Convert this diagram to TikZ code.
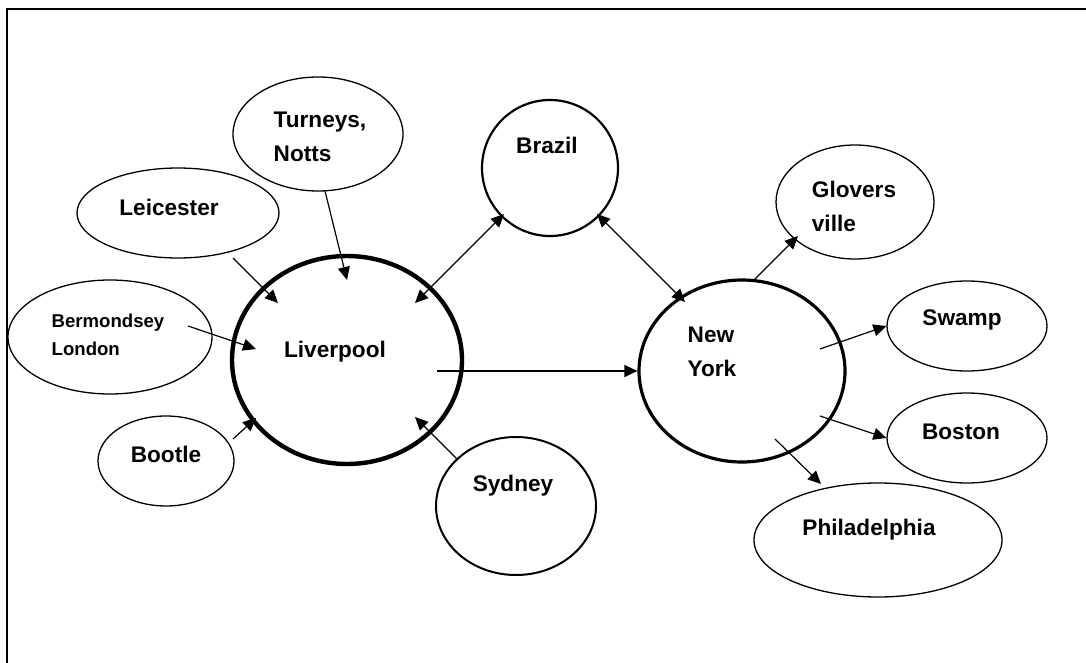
\documentclass[tikz,border=0pt]{standalone}
\usepackage{fontspec}
\setmainfont{Liberation Sans}
\usetikzlibrary{positioning, calc, shapes.geometric, arrows.meta}
\tikzset{
  %% town ellipse
  town/.style={
    ellipse, draw, line width=0.65pt, inner sep=0pt
  },
  %% heavier outline for the ports
  port/.style={town, line width=1.1pt},
  %% text inside the shapes
  lbl/.style={
    font=\fontsize{11.3}{17}\selectfont\bfseries,
    align=left, inner sep=0pt
  },
  lblSmall/.style={lbl, font=\fontsize{9.3}{14}\selectfont\bfseries},
  %% arrows
  arr/.style={
    -{Triangle[length=6.5pt, width=6pt]},
    line width=0.6pt
  },
  arrBoth/.style={arr, {Triangle[length=6.5pt, width=6pt]}-{Triangle[length=6.5pt, width=6pt]}}
}

\begin{document}
\begin{tikzpicture}[x=0.5pt, y=-0.5pt]
\useasboundingbox (0,0) rectangle (1086,663);

%% frame, top and left edge
\coordinate (frameBL) at (7,663);
\coordinate (frameTR) at (1086,9);
\draw[line width=0.8pt] (frameBL) |- (frameTR);

%% ═══════════════════════════════════════════════════════════════
%%  LIVERPOOL and the places feeding it
%% ═══════════════════════════════════════════════════════════════

\node[port, line width=2.2pt, minimum width=115pt, minimum height=104pt,
  label={[lbl, xshift=-6pt, yshift=4pt]center:Liverpool}
] (lpool) at (347,360) {};

\node[town, minimum width=85pt, minimum height=57pt,
  label={[lbl, xshift=1pt, yshift=-1.5pt]center:{Turneys,\\Notts}}
] (turn) at (318,134) {};

\node[town, minimum width=101pt, minimum height=45pt,
  label={[lbl, xshift=-4.5pt, yshift=3pt]center:Leicester}
] (leic) at (178,213) {};

\node[town, minimum width=102pt, minimum height=57pt,
  label={[lblSmall, xshift=-1pt, yshift=1pt]center:{Bermondsey\\London}}
] (berm) at (110,337) {};

\node[town, minimum width=68pt, minimum height=45pt,
  label={[lbl, yshift=3.5pt]center:Bootle}
] (boot) at (166,461) {};

\node[town, line width=1pt, minimum width=80pt, minimum height=69pt,
  label={[lbl, xshift=-1.5pt, yshift=10pt]center:Sydney}
] (syd) at (516,506) {};

%% ═══════════════════════════════════════════════════════════════
%%  BRAZIL and NEW YORK
%% ═══════════════════════════════════════════════════════════════

\node[port, minimum width=68pt, minimum height=68pt,
  label={[lbl, xshift=-1.5pt, yshift=11.5pt]center:Brazil}
] (braz) at (550,168) {};

\node[port, line width=1.6pt, minimum width=103pt, minimum height=91pt,
  label={[lbl, xshift=-15pt, yshift=9.5pt]center:{New\\York}}
] (ny) at (742,371) {};

\node[town, minimum width=79pt, minimum height=57pt,
  label={[lbl, xshift=-0.5pt, yshift=-2pt]center:{Glovers\\ville}}
] (glov) at (855,202) {};

\node[town, minimum width=80pt, minimum height=45pt,
  label={[lbl, xshift=-2.5pt, yshift=3pt]center:Swamp}
] (swamp) at (967,326) {};

\node[town, minimum width=80pt, minimum height=45pt,
  label={[lbl, xshift=-3pt, yshift=3pt]center:Boston}
] (bost) at (967,438) {};

\node[town, minimum width=124pt, minimum height=57pt,
  label={[lbl, xshift=-4.5pt, yshift=5pt]center:Philadelphia}
] (phil) at (878,540) {};

%% ═══════════════════════════════════════════════════════════════
%%  ARROWS into Liverpool
%% ═══════════════════════════════════════════════════════════════

\draw[arr] ($(leic)+(55,45)$) -- ($(lpool)+(-69,-57)$);
\draw[arr] ($(turn)+(7,57)$) -- ($(lpool)+(0,-80)$);
\draw[arr] ($(berm)+(78,-11)$) -- ($(lpool)+(-91,-11)$);
\draw[arr] ($(boot)+(67,-22)$) -- ($(lpool)+(-91,58)$);
\draw[arr] ($(syd)+(-58,-46)$) -- ($(lpool)+(68,57)$);

%% ═══════════════════════════════════════════════════════════════
%%  ARROWS between the ports
%% ═══════════════════════════════════════════════════════════════

\draw[arrBoth] ($(lpool)+(68,-57)$) -- ($(braz)+(-46,46)$);
\draw[arrBoth] ($(braz)+(47,46)$) -- ($(ny)+(-57,-69)$);
\draw[arr] ($(lpool)+(90,11)$) -- (ny.west);

%% ═══════════════════════════════════════════════════════════════
%%  ARROWS out of New York
%% ═══════════════════════════════════════════════════════════════

\draw[arr] ($(ny)+(12,-91)$) -- ($(glov)+(-57,34)$);
\draw[arr] ($(ny)+(78,-22)$) -- (swamp.west);
\draw[arr] ($(ny)+(78,45)$) -- (bost.west);
\draw[arr] ($(ny)+(33,68)$) -- ($(phil)+(-57,-56)$);

\end{tikzpicture}
\end{document}
